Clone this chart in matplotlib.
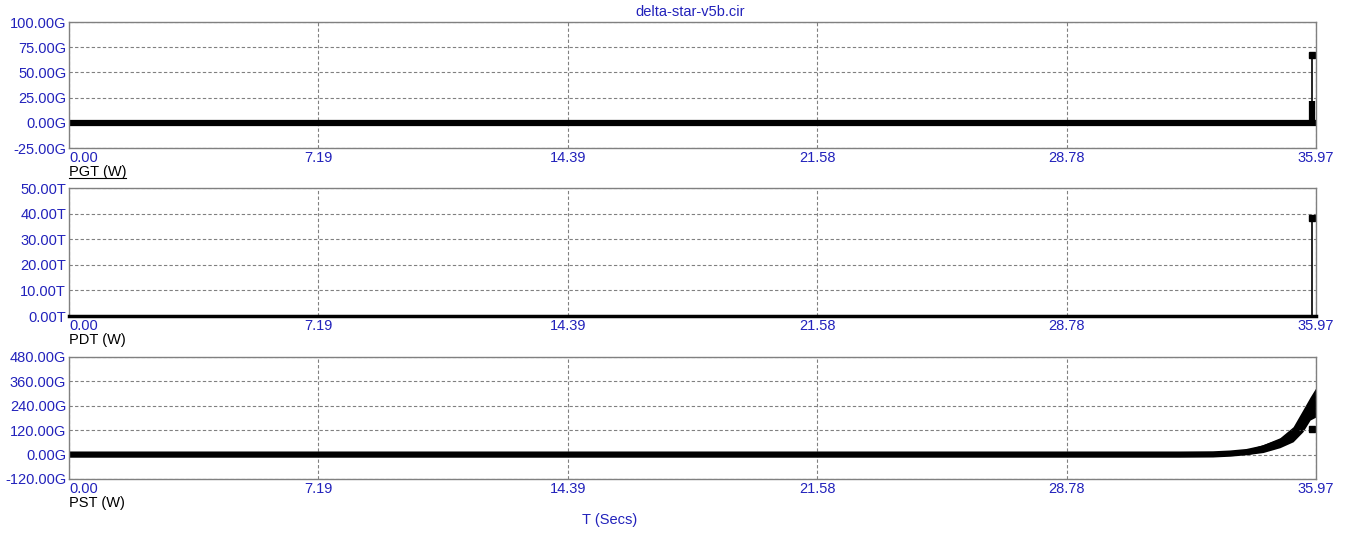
import matplotlib.pyplot as plt
import numpy as np

plt.rcParams['font.family'] = ['Liberation Sans', 'DejaVu Sans']

# x axis (seconds)
x_ticks = [0.00, 7.19, 14.39, 21.58, 28.78, 35.97]
x_labels = ['0.00', '7.19', '14.39', '21.58', '28.78', '35.97']

# PGT (W), in G
pgt_t = [0.0, 35.97]
pgt_v = [0.0, 0.0]
pgt_spike_t = 35.85
pgt_spike_peak = 67.5
pgt_spike_body = 21.5
pgt_ticks = [-25, 0, 25, 50, 75, 100]

# PDT (W), in T
pdt_t = [0.0, 35.97]
pdt_v = [0.0, 0.0]
pdt_spike_t = 35.85
pdt_spike_peak = 38.2
pdt_ticks = [0, 10, 20, 30, 40, 50]

# PST (W), in G - band (lower / upper envelope)
pst_t = [0.0, 32.05, 33.00, 33.50, 33.98, 34.44, 34.93, 35.31, 35.59, 35.80, 35.97]
pst_lo = [0.0, 0.0, 0.0, 0.0, 0.0, 10.0, 34.0, 63.0, 112.0, 170.0, 185.0]
pst_hi = [0.0, 0.0, 2.0, 10.0, 25.0, 49.0, 83.0, 137.0, 220.0, 283.0, 330.0]
pst_marks_t = [35.85]
pst_marks_v = [127.0]
pst_ticks = [-120, 0, 120, 240, 360, 480]

blue = '#2222bb'
grid_c = '#808080'
W, H = 1353, 541

fig = plt.figure(figsize=(W / 100, H / 100), dpi=100)

def make_ax(top, bottom):
    return fig.add_axes([69 / W, (H - bottom) / H, 1247 / W, (bottom - top) / H])

def style(ax, yticks, unit, label, underline=False):
    ax.set_xlim(x_ticks[0], x_ticks[-1])
    ax.set_ylim(yticks[0], yticks[-1])
    ax.set_yticks(yticks)
    ax.set_yticklabels([f'{v:.2f}{unit}' for v in yticks], color=blue, fontsize=10.5)
    ax.set_xticks(x_ticks)
    ax.set_xticklabels(x_labels, color=blue, fontsize=10.5)
    ax.get_xticklabels()[0].set_horizontalalignment('left')
    ax.tick_params(length=0, pad=2)
    ax.grid(True, linestyle=(0, (3, 2)), color=grid_c, linewidth=0.8)
    for s in ax.spines.values():
        s.set_color(grid_c)
        s.set_linewidth(1.0)
    bbox = ax.get_position()
    y0 = bbox.y0 * H - 24
    fig.text(69 / W, y0 / H, label, fontsize=10.5, va='center', ha='left', color='black')
    if underline:
        fig.add_artist(plt.Line2D([69 / W, 126 / W], [(y0 - 6) / H, (y0 - 6) / H],
                                  color='black', linewidth=0.8))

ax1 = make_ax(22, 148)
ax2 = make_ax(188, 316)
ax3 = make_ax(357, 479)

# PGT
ax1.plot(pgt_t, pgt_v, color='black', linewidth=4.5, solid_capstyle='butt')
ax1.vlines(pgt_spike_t, 0, pgt_spike_peak, color='black', linewidth=1.2)
ax1.vlines(pgt_spike_t, 0, pgt_spike_body, color='black', linewidth=4.5)
ax1.plot([pgt_spike_t], [pgt_spike_peak], 's', color='black', markersize=4.5)
style(ax1, pgt_ticks, 'G', 'PGT (W)', underline=True)

# PDT
ax2.plot(pdt_t, pdt_v, color='black', linewidth=2.5, clip_on=False, zorder=5)
ax2.vlines(pdt_spike_t, 0, pdt_spike_peak, color='black', linewidth=1.2)
ax2.plot([pdt_spike_t], [pdt_spike_peak], 's', color='black', markersize=4.5)
style(ax2, pdt_ticks, 'T', 'PDT (W)')

# PST
pst_mid = (np.array(pst_lo) + np.array(pst_hi)) / 2
ax3.fill_between(pst_t, pst_lo, pst_hi, color='black', linewidth=0)
ax3.plot(pst_t, pst_mid, color='black', linewidth=4.5, solid_capstyle='butt')
ax3.plot(pst_marks_t, pst_marks_v, 's', color='black', markersize=4.5)
style(ax3, pst_ticks, 'G', 'PST (W)')

fig.text(690 / W, 1 - 12 / H, 'delta-star-v5b.cir', color=blue, fontsize=10.5,
         ha='center', va='center')
fig.text(610 / W, 1 - 520 / H, 'T (Secs)', color=blue, fontsize=10.5,
         ha='center', va='center')

fig.savefig('out.png', dpi=100, facecolor='white')
